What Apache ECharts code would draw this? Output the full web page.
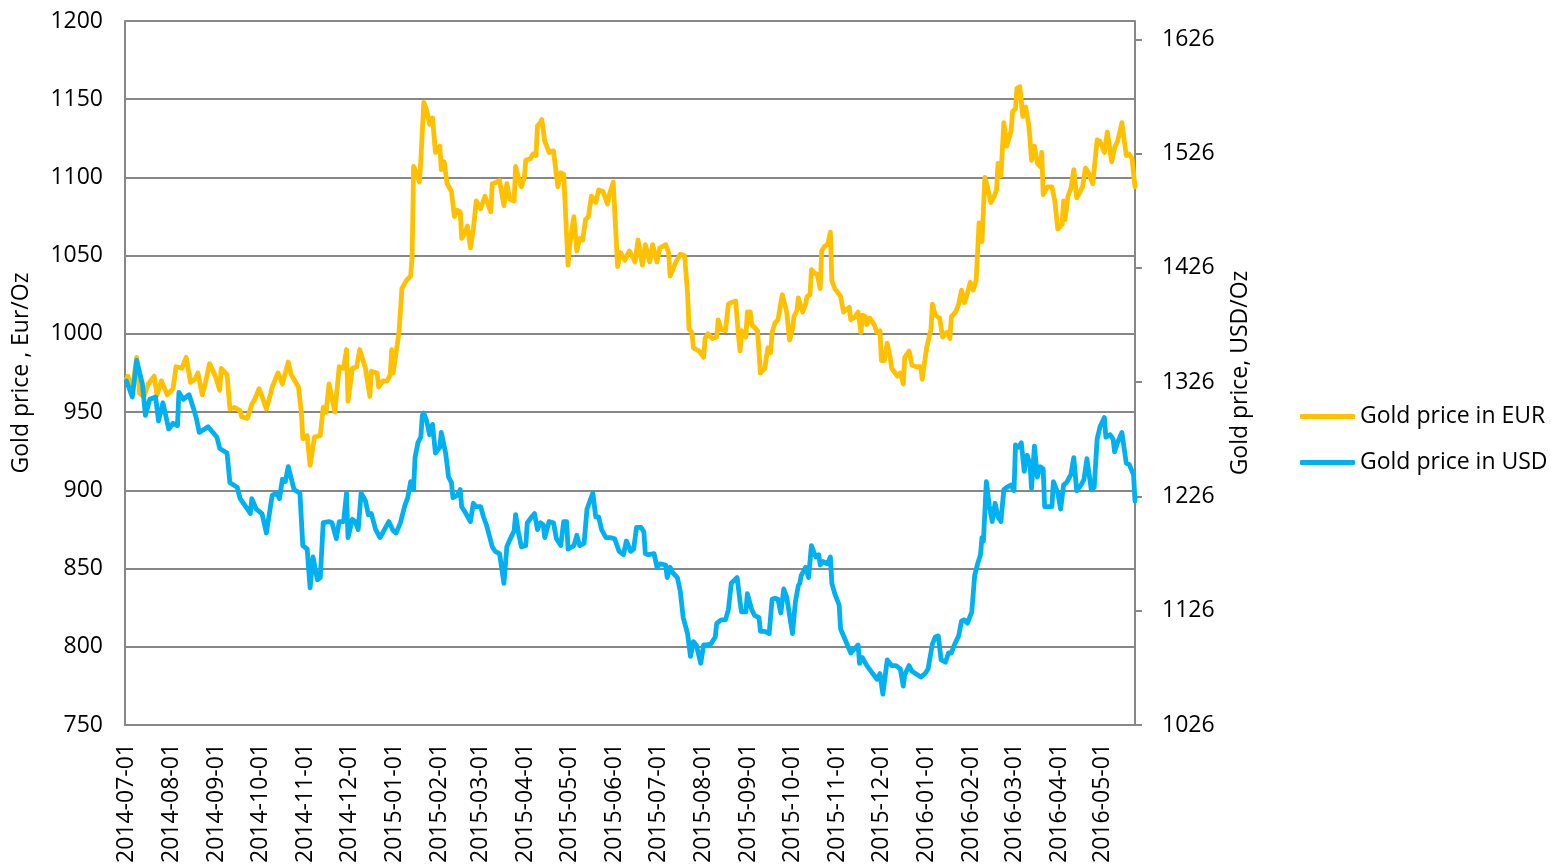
<!DOCTYPE html>
<html>
<head>
<meta charset="utf-8">
<title>Gold price in EUR and USD</title>
<script src="https://cdn.jsdelivr.net/npm/echarts@6/dist/echarts.min.js"></script>
<style>
  html, body { margin: 0; padding: 0; background: #fff; }
  #chart { width: 1551px; height: 867px; }
</style>
</head>
<body>
<div id="chart"></div>
<script>
// axis range (calendar days) and tick values
var firstDay = '2014-06-30';
var lastDay = '2016-05-23';
var eurTicks = [750, 800, 850, 900, 950, 1000, 1050, 1100, 1150, 1200];
var usdTicks = [1026, 1126, 1226, 1326, 1426, 1526, 1626];

// Gold price in EUR
var eurPoints = [
  ['2014-07-01', 971], ['2014-07-02', 973], ['2014-07-05', 964], ['2014-07-08', 985], ['2014-07-10', 962],
  ['2014-07-13', 960], ['2014-07-16', 968], ['2014-07-20', 973], ['2014-07-22', 961], ['2014-07-25', 970],
  ['2014-07-29', 961], ['2014-08-02', 965], ['2014-08-04', 979], ['2014-08-08', 978], ['2014-08-11', 985],
  ['2014-08-14', 969], ['2014-08-17', 971], ['2014-08-19', 975], ['2014-08-22', 961], ['2014-08-24', 968],
  ['2014-08-27', 981], ['2014-08-31', 973], ['2014-09-03', 964], ['2014-09-04', 978], ['2014-09-08', 974],
  ['2014-09-10', 952], ['2014-09-13', 953], ['2014-09-17', 951], ['2014-09-18', 947], ['2014-09-22', 946],
  ['2014-09-25', 955], ['2014-09-27', 958], ['2014-09-30', 965], ['2014-10-02', 960], ['2014-10-05', 952],
  ['2014-10-08', 962], ['2014-10-09', 966], ['2014-10-12', 973], ['2014-10-13', 975], ['2014-10-16', 968],
  ['2014-10-20', 982], ['2014-10-22', 974], ['2014-10-27', 966], ['2014-10-29', 950], ['2014-10-30', 933],
  ['2014-11-02', 935], ['2014-11-04', 916], ['2014-11-07', 934], ['2014-11-11', 935], ['2014-11-13', 953],
  ['2014-11-15', 950], ['2014-11-17', 968], ['2014-11-21', 950], ['2014-11-24', 979], ['2014-11-27', 978],
  ['2014-11-29', 990], ['2014-11-30', 957], ['2014-12-03', 978], ['2014-12-06', 979], ['2014-12-08', 990],
  ['2014-12-12', 978], ['2014-12-15', 960], ['2014-12-16', 976], ['2014-12-20', 975], ['2014-12-21', 966],
  ['2014-12-24', 970], ['2014-12-27', 970], ['2014-12-29', 974], ['2014-12-30', 990], ['2014-12-31', 975],
  ['2015-01-04', 1001], ['2015-01-06', 1029], ['2015-01-09', 1034], ['2015-01-12', 1037], ['2015-01-13', 1049],
  ['2015-01-14', 1107], ['2015-01-16', 1103], ['2015-01-18', 1097], ['2015-01-19', 1111], ['2015-01-21', 1148],
  ['2015-01-23', 1143], ['2015-01-25', 1134], ['2015-01-27', 1138], ['2015-01-29', 1116], ['2015-01-30', 1115],
  ['2015-02-01', 1120], ['2015-02-02', 1105], ['2015-02-04', 1110], ['2015-02-06', 1096], ['2015-02-09', 1091],
  ['2015-02-11', 1075], ['2015-02-13', 1079], ['2015-02-15', 1078], ['2015-02-16', 1061], ['2015-02-18', 1064],
  ['2015-02-20', 1069], ['2015-02-22', 1055], ['2015-02-24', 1067], ['2015-02-26', 1085], ['2015-03-01', 1080],
  ['2015-03-04', 1088], ['2015-03-08', 1078], ['2015-03-09', 1096], ['2015-03-12', 1097], ['2015-03-14', 1098],
  ['2015-03-17', 1082], ['2015-03-19', 1096], ['2015-03-21', 1086], ['2015-03-24', 1085], ['2015-03-25', 1107],
  ['2015-03-28', 1096], ['2015-03-29', 1094], ['2015-03-31', 1100], ['2015-04-01', 1111], ['2015-04-04', 1112],
  ['2015-04-06', 1115], ['2015-04-08', 1114], ['2015-04-09', 1133], ['2015-04-11', 1135], ['2015-04-12', 1137],
  ['2015-04-14', 1123], ['2015-04-15', 1121], ['2015-04-17', 1116], ['2015-04-20', 1117], ['2015-04-23', 1094],
  ['2015-04-25', 1103], ['2015-04-27', 1102], ['2015-04-30', 1044], ['2015-05-01', 1056], ['2015-05-04', 1075],
  ['2015-05-06', 1053], ['2015-05-08', 1061], ['2015-05-10', 1060], ['2015-05-12', 1073], ['2015-05-14', 1075],
  ['2015-05-16', 1088], ['2015-05-19', 1084], ['2015-05-21', 1092], ['2015-05-24', 1091], ['2015-05-27', 1083],
  ['2015-05-28', 1088], ['2015-05-31', 1097], ['2015-06-03', 1043], ['2015-06-05', 1052], ['2015-06-08', 1047],
  ['2015-06-11', 1053], ['2015-06-14', 1048], ['2015-06-15', 1046], ['2015-06-17', 1060], ['2015-06-20', 1044],
  ['2015-06-22', 1057], ['2015-06-25', 1046], ['2015-06-27', 1057], ['2015-06-30', 1046], ['2015-07-02', 1055],
  ['2015-07-06', 1057], ['2015-07-08', 1052], ['2015-07-09', 1037], ['2015-07-13', 1046], ['2015-07-16', 1051],
  ['2015-07-19', 1050], ['2015-07-21', 1026], ['2015-07-22', 1003], ['2015-07-24', 1001], ['2015-07-25', 991],
  ['2015-07-29', 989], ['2015-08-01', 985], ['2015-08-02', 997], ['2015-08-04', 1000], ['2015-08-07', 997],
  ['2015-08-10', 998], ['2015-08-11', 1009], ['2015-08-13', 1003], ['2015-08-16', 1002], ['2015-08-18', 1019],
  ['2015-08-20', 1020], ['2015-08-23', 1021], ['2015-08-25', 998], ['2015-08-26', 989], ['2015-08-27', 1002],
  ['2015-08-30', 998], ['2015-08-31', 1014], ['2015-09-02', 1014], ['2015-09-03', 1006], ['2015-09-07', 1002],
  ['2015-09-09', 975], ['2015-09-12', 978], ['2015-09-14', 991], ['2015-09-16', 988], ['2015-09-17', 1001],
  ['2015-09-19', 1007], ['2015-09-21', 1009], ['2015-09-24', 1025], ['2015-09-25', 1026], ['2015-09-27', 1014],
  ['2015-09-29', 996], ['2015-10-01', 1003], ['2015-10-02', 1011], ['2015-10-04', 1015], ['2015-10-05', 1023],
  ['2015-10-08', 1014], ['2015-10-10', 1019], ['2015-10-11', 1024], ['2015-10-13', 1025], ['2015-10-14', 1041],
  ['2015-10-16', 1039], ['2015-10-18', 1038], ['2015-10-20', 1029], ['2015-10-21', 1053], ['2015-10-23', 1056],
  ['2015-10-25', 1057], ['2015-10-27', 1065], ['2015-10-28', 1034], ['2015-10-30', 1029], ['2015-11-03', 1024],
  ['2015-11-05', 1014], ['2015-11-06', 1015], ['2015-11-09', 1017], ['2015-11-10', 1009], ['2015-11-13', 1011],
  ['2015-11-15', 1014], ['2015-11-17', 1001], ['2015-11-18', 1012], ['2015-11-20', 1011], ['2015-11-21', 1006],
  ['2015-11-23', 1010], ['2015-11-26', 1006], ['2015-11-28', 1001], ['2015-11-30', 1002], ['2015-12-01', 983],
  ['2015-12-03', 983], ['2015-12-05', 994], ['2015-12-07', 985], ['2015-12-08', 978], ['2015-12-12', 973],
  ['2015-12-14', 975], ['2015-12-16', 968], ['2015-12-17', 985], ['2015-12-20', 989], ['2015-12-22', 980],
  ['2015-12-25', 979], ['2015-12-28', 979], ['2015-12-29', 971], ['2016-01-01', 991], ['2016-01-04', 1003],
  ['2016-01-05', 1019], ['2016-01-07', 1012], ['2016-01-10', 1010], ['2016-01-12', 998], ['2016-01-15', 1001],
  ['2016-01-17', 997], ['2016-01-18', 1011], ['2016-01-21', 1014], ['2016-01-23', 1019], ['2016-01-25', 1028],
  ['2016-01-27', 1020], ['2016-01-29', 1026], ['2016-01-31', 1033], ['2016-02-02', 1028], ['2016-02-04', 1034],
  ['2016-02-06', 1071], ['2016-02-08', 1059], ['2016-02-10', 1100], ['2016-02-12', 1093], ['2016-02-14', 1084],
  ['2016-02-16', 1087], ['2016-02-18', 1092], ['2016-02-19', 1109], ['2016-02-21', 1101], ['2016-02-23', 1135],
  ['2016-02-25', 1120], ['2016-02-28', 1130], ['2016-02-29', 1142], ['2016-03-02', 1144], ['2016-03-03', 1157],
  ['2016-03-05', 1158], ['2016-03-07', 1139], ['2016-03-09', 1145], ['2016-03-11', 1134], ['2016-03-12', 1124],
  ['2016-03-13', 1111], ['2016-03-15', 1120], ['2016-03-17', 1109], ['2016-03-19', 1107], ['2016-03-20', 1116],
  ['2016-03-21', 1089], ['2016-03-24', 1094], ['2016-03-27', 1094], ['2016-03-29', 1085], ['2016-03-31', 1067],
  ['2016-04-03', 1070], ['2016-04-04', 1085], ['2016-04-05', 1073], ['2016-04-07', 1088], ['2016-04-09', 1093],
  ['2016-04-11', 1105], ['2016-04-13', 1087], ['2016-04-17', 1094], ['2016-04-19', 1106], ['2016-04-21', 1103],
  ['2016-04-24', 1096], ['2016-04-27', 1124], ['2016-04-29', 1123], ['2016-05-02', 1116], ['2016-05-04', 1129],
  ['2016-05-07', 1110], ['2016-05-09', 1119], ['2016-05-11', 1123], ['2016-05-14', 1135], ['2016-05-17', 1114],
  ['2016-05-19', 1115], ['2016-05-21', 1112], ['2016-05-23', 1094]
];

// Gold price in USD
var usdPoints = [
  ['2014-07-01', 1327], ['2014-07-05', 1313], ['2014-07-08', 1345], ['2014-07-12', 1324], ['2014-07-14', 1297],
  ['2014-07-17', 1311], ['2014-07-21', 1313], ['2014-07-23', 1292], ['2014-07-26', 1308], ['2014-07-30', 1285],
  ['2014-08-02', 1290], ['2014-08-05', 1288], ['2014-08-06', 1317], ['2014-08-09', 1311], ['2014-08-13', 1315],
  ['2014-08-16', 1303], ['2014-08-18', 1294], ['2014-08-20', 1282], ['2014-08-26', 1287], ['2014-09-01', 1278],
  ['2014-09-03', 1268], ['2014-09-08', 1264], ['2014-09-10', 1238], ['2014-09-15', 1234], ['2014-09-17', 1224],
  ['2014-09-22', 1215], ['2014-09-24', 1211], ['2014-09-25', 1224], ['2014-09-28', 1215], ['2014-10-02', 1211],
  ['2014-10-05', 1194], ['2014-10-09', 1227], ['2014-10-12', 1229], ['2014-10-14', 1224], ['2014-10-16', 1241],
  ['2014-10-18', 1239], ['2014-10-20', 1252], ['2014-10-24', 1232], ['2014-10-28', 1229], ['2014-10-30', 1183],
  ['2014-11-02', 1180], ['2014-11-04', 1146], ['2014-11-06', 1173], ['2014-11-09', 1153], ['2014-11-11', 1155],
  ['2014-11-13', 1203], ['2014-11-17', 1204], ['2014-11-19', 1203], ['2014-11-22', 1189], ['2014-11-24', 1204],
  ['2014-11-27', 1204], ['2014-11-29', 1229], ['2014-11-30', 1190], ['2014-12-03', 1206], ['2014-12-05', 1204],
  ['2014-12-07', 1197], ['2014-12-09', 1229], ['2014-12-12', 1222], ['2014-12-14', 1210], ['2014-12-16', 1211],
  ['2014-12-19', 1197], ['2014-12-22', 1190], ['2014-12-25', 1197], ['2014-12-28', 1204], ['2014-12-31', 1196],
  ['2015-01-02', 1194], ['2015-01-05', 1203], ['2015-01-07', 1213], ['2015-01-08', 1218], ['2015-01-10', 1225],
  ['2015-01-12', 1239], ['2015-01-14', 1232], ['2015-01-15', 1260], ['2015-01-17', 1273], ['2015-01-19', 1278],
  ['2015-01-20', 1297], ['2015-01-21', 1299], ['2015-01-23', 1292], ['2015-01-25', 1280], ['2015-01-27', 1289],
  ['2015-01-29', 1264], ['2015-02-01', 1269], ['2015-02-02', 1282], ['2015-02-05', 1264], ['2015-02-07', 1243],
  ['2015-02-09', 1238], ['2015-02-10', 1225], ['2015-02-13', 1227], ['2015-02-15', 1232], ['2015-02-16', 1217],
  ['2015-02-18', 1213], ['2015-02-22', 1204], ['2015-02-24', 1220], ['2015-02-26', 1217], ['2015-03-01', 1217],
  ['2015-03-03', 1208], ['2015-03-05', 1201], ['2015-03-09', 1182], ['2015-03-11', 1178], ['2015-03-14', 1176],
  ['2015-03-17', 1150], ['2015-03-19', 1182], ['2015-03-21', 1188], ['2015-03-24', 1196], ['2015-03-25', 1210],
  ['2015-03-27', 1194], ['2015-03-29', 1182], ['2015-04-01', 1183], ['2015-04-02', 1203], ['2015-04-05', 1208],
  ['2015-04-07', 1211], ['2015-04-09', 1197], ['2015-04-11', 1203], ['2015-04-13', 1201], ['2015-04-14', 1190],
  ['2015-04-17', 1204], ['2015-04-20', 1203], ['2015-04-22', 1189], ['2015-04-25', 1183], ['2015-04-27', 1204],
  ['2015-04-29', 1204], ['2015-04-30', 1180], ['2015-05-04', 1183], ['2015-05-06', 1192], ['2015-05-08', 1183],
  ['2015-05-11', 1185], ['2015-05-13', 1215], ['2015-05-15', 1222], ['2015-05-17', 1229], ['2015-05-19', 1208],
  ['2015-05-21', 1208], ['2015-05-23', 1197], ['2015-05-26', 1190], ['2015-05-29', 1190], ['2015-06-01', 1189],
  ['2015-06-04', 1178], ['2015-06-07', 1175], ['2015-06-09', 1187], ['2015-06-12', 1178], ['2015-06-14', 1180],
  ['2015-06-16', 1199], ['2015-06-19', 1199], ['2015-06-21', 1195], ['2015-06-22', 1176], ['2015-06-24', 1175],
  ['2015-06-28', 1176], ['2015-06-30', 1164], ['2015-07-02', 1167], ['2015-07-06', 1166], ['2015-07-07', 1155],
  ['2015-07-09', 1164], ['2015-07-11', 1159], ['2015-07-14', 1155], ['2015-07-16', 1143], ['2015-07-18', 1120],
  ['2015-07-21', 1106], ['2015-07-23', 1086], ['2015-07-25', 1099], ['2015-07-27', 1096], ['2015-07-30', 1080],
  ['2015-08-01', 1096], ['2015-08-03', 1096], ['2015-08-06', 1097], ['2015-08-09', 1103], ['2015-08-10', 1115],
  ['2015-08-13', 1118], ['2015-08-16', 1118], ['2015-08-18', 1127], ['2015-08-20', 1150], ['2015-08-24', 1155],
  ['2015-08-26', 1134], ['2015-08-27', 1125], ['2015-08-30', 1125], ['2015-08-31', 1141], ['2015-09-03', 1127],
  ['2015-09-05', 1122], ['2015-09-08', 1120], ['2015-09-09', 1108], ['2015-09-12', 1108], ['2015-09-15', 1106],
  ['2015-09-17', 1136], ['2015-09-19', 1137], ['2015-09-21', 1136], ['2015-09-23', 1124], ['2015-09-25', 1145],
  ['2015-09-27', 1138], ['2015-10-01', 1106], ['2015-10-03', 1134], ['2015-10-05', 1148], ['2015-10-06', 1150],
  ['2015-10-07', 1157], ['2015-10-10', 1164], ['2015-10-12', 1155], ['2015-10-14', 1183], ['2015-10-17', 1173],
  ['2015-10-19', 1175], ['2015-10-20', 1166], ['2015-10-22', 1169], ['2015-10-25', 1167], ['2015-10-27', 1173],
  ['2015-10-28', 1150], ['2015-10-30', 1141], ['2015-11-02', 1131], ['2015-11-03', 1110], ['2015-11-06', 1101],
  ['2015-11-10', 1089], ['2015-11-12', 1092], ['2015-11-15', 1096], ['2015-11-16', 1080], ['2015-11-18', 1085],
  ['2015-11-21', 1078], ['2015-11-25', 1071], ['2015-11-28', 1066], ['2015-11-30', 1071], ['2015-12-02', 1053],
  ['2015-12-05', 1083], ['2015-12-08', 1078], ['2015-12-11', 1078], ['2015-12-14', 1075], ['2015-12-16', 1060],
  ['2015-12-17', 1070], ['2015-12-20', 1078], ['2015-12-22', 1073], ['2015-12-28', 1068], ['2015-12-31', 1071],
  ['2016-01-02', 1075], ['2016-01-05', 1097], ['2016-01-07', 1103], ['2016-01-09', 1104], ['2016-01-11', 1083],
  ['2016-01-14', 1081], ['2016-01-16', 1089], ['2016-01-18', 1089], ['2016-01-20', 1096], ['2016-01-23', 1104],
  ['2016-01-25', 1117], ['2016-01-27', 1118], ['2016-01-29', 1115], ['2016-02-01', 1125], ['2016-02-03', 1157],
  ['2016-02-05', 1167], ['2016-02-07', 1175], ['2016-02-08', 1190], ['2016-02-09', 1187], ['2016-02-11', 1239],
  ['2016-02-13', 1218], ['2016-02-15', 1204], ['2016-02-17', 1220], ['2016-02-19', 1208], ['2016-02-21', 1204],
  ['2016-02-23', 1232], ['2016-02-25', 1234], ['2016-02-28', 1236], ['2016-03-01', 1231], ['2016-03-02', 1271],
  ['2016-03-04', 1269], ['2016-03-06', 1273], ['2016-03-08', 1248], ['2016-03-10', 1262], ['2016-03-12', 1254],
  ['2016-03-13', 1233], ['2016-03-15', 1270], ['2016-03-17', 1243], ['2016-03-19', 1252], ['2016-03-21', 1250],
  ['2016-03-22', 1217], ['2016-03-27', 1217], ['2016-03-28', 1239], ['2016-03-31', 1229], ['2016-04-02', 1215],
  ['2016-04-04', 1236], ['2016-04-06', 1238], ['2016-04-09', 1245], ['2016-04-11', 1260], ['2016-04-13', 1231],
  ['2016-04-16', 1236], ['2016-04-18', 1241], ['2016-04-20', 1259], ['2016-04-23', 1232], ['2016-04-25', 1234],
  ['2016-04-27', 1276], ['2016-04-29', 1287], ['2016-05-02', 1295], ['2016-05-03', 1278], ['2016-05-06', 1280],
  ['2016-05-08', 1276], ['2016-05-09', 1265], ['2016-05-11', 1273], ['2016-05-14', 1282], ['2016-05-17', 1255],
  ['2016-05-19', 1254], ['2016-05-22', 1245], ['2016-05-23', 1222]
];

// one category per calendar day, so spacing follows the dates
var days = [];
for (var t = Date.parse(firstDay); t <= Date.parse(lastDay); t += 86400000) {
  days.push(new Date(t).toISOString().slice(0, 10));
}

function onDays(points) {
  var out = days.map(function () { return null; });
  points.forEach(function (p) {
    out[days.indexOf(p[0])] = p[1];
  });
  return out;
}

function plain(v) {
  return String(v);
}

var font = '"Open Sans", sans-serif';
var gray = '#878787';
var chart = echarts.init(document.getElementById('chart'));

chart.setOption({
  animation: false,
  backgroundColor: '#fff',
  textStyle: { fontFamily: font },
  grid: { left: 125, right: 416, top: 21, bottom: 142 },
  legend: {
    orient: 'vertical',
    left: 1295,
    top: 400,
    itemWidth: 55,
    itemHeight: 5,
    itemGap: 23,
    icon: 'roundRect',
    textStyle: { fontSize: 23, color: '#000', fontFamily: font },
    data: ['Gold price in EUR', 'Gold price in USD']
  },
  xAxis: {
    type: 'category',
    data: days,
    boundaryGap: false,
    axisLine: { lineStyle: { color: gray, width: 2 } },
    axisTick: { show: false },
    axisLabel: {
      rotate: 90,
      margin: 18,
      fontSize: 23,
      color: '#000',
      fontFamily: font,
      interval: function (i, v) { return v.slice(8) === '01'; }
    },
    splitLine: { show: false }
  },
  yAxis: [
    {
      type: 'value',
      min: eurTicks[0],
      max: eurTicks[eurTicks.length - 1],
      interval: 50,
      name: 'Gold price , Eur/Oz',
      nameLocation: 'middle',
      nameRotate: 90,
      nameGap: 92,
      nameTextStyle: { fontSize: 23, color: '#000', fontFamily: font },
      axisLine: { show: true, lineStyle: { color: gray, width: 2 } },
      axisTick: { show: false },
      axisLabel: { margin: 22, fontSize: 23, color: '#000', fontFamily: font, formatter: plain },
      splitLine: { show: true, lineStyle: { color: gray, width: 2 } }
    },
    {
      type: 'value',
      position: 'right',
      min: usdTicks[0],
      max: 1642,
      interval: 100,
      name: 'Gold price, USD/Oz',
      nameLocation: 'middle',
      nameRotate: 90,
      nameGap: 94,
      nameTextStyle: { fontSize: 23, color: '#000', fontFamily: font },
      axisLine: { show: true, lineStyle: { color: gray, width: 2 } },
      axisTick: { show: true, length: 7, customValues: usdTicks, lineStyle: { color: gray, width: 2 } },
      axisLabel: {
        margin: 27,
        fontSize: 23,
        color: '#000',
        fontFamily: font,
        customValues: usdTicks,
        formatter: plain
      },
      splitLine: { show: false }
    }
  ],
  series: [
    {
      name: 'Gold price in EUR',
      type: 'line',
      yAxisIndex: 0,
      data: onDays(eurPoints),
      connectNulls: true,
      showSymbol: false,
      itemStyle: { color: '#FFC000' },
      lineStyle: { color: '#FFC000', width: 4.8, join: 'round', cap: 'round' }
    },
    {
      name: 'Gold price in USD',
      type: 'line',
      yAxisIndex: 1,
      data: onDays(usdPoints),
      connectNulls: true,
      showSymbol: false,
      itemStyle: { color: '#00B0F0' },
      lineStyle: { color: '#00B0F0', width: 4.8, join: 'round', cap: 'round' }
    }
  ]
});
</script>
</body>
</html>
